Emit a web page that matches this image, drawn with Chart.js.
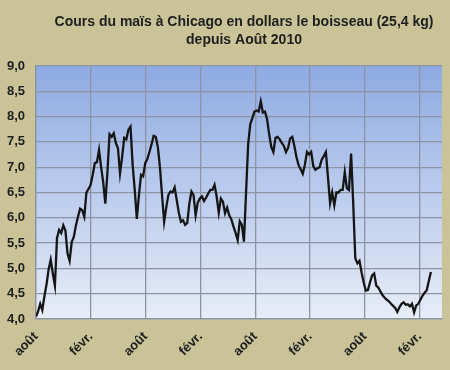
<!DOCTYPE html>
<html>
<head>
<meta charset="utf-8">
<script src="https://cdn.jsdelivr.net/npm/chart.js@4/dist/chart.umd.min.js"></script>
<style>
  html, body { margin: 0; padding: 0; background: #c9c397; }
  #wrap { width: 450px; height: 370px; }
</style>
</head>
<body>
<div id="wrap"><canvas id="c" width="450" height="370"></canvas></div>
<script>
// Title lines
const titleLines = ['Cours du maïs à Chicago en dollars le boisseau (25,4 kg)', 'depuis Août 2010'];
// Weekly closing price of corn (USD per bushel), starting first week of August 2010
const weeklyPrices = [
  4.05, 4.15, 4.30, 4.18, 4.45, 4.68, 4.98, 5.17, 4.90, 4.66,
  5.60, 5.76, 5.70, 5.85, 5.75, 5.30, 5.15, 5.52, 5.62, 5.85,
  6.02, 6.18, 6.15, 6.02, 6.50, 6.57, 6.65, 6.85, 7.08, 7.10,
  7.34, 7.00, 6.70, 6.28, 6.90, 7.65, 7.60, 7.67, 7.48, 7.38,
  6.88, 7.20, 7.58, 7.55, 7.74, 7.80, 7.05, 6.55, 5.98, 6.45,
  6.85, 6.82, 7.08, 7.16, 7.30, 7.45, 7.62, 7.60, 7.40, 7.00,
  6.45, 5.92, 6.20, 6.45, 6.52, 6.50, 6.60, 6.35, 6.10, 5.92,
  5.95, 5.86, 5.90, 6.28, 6.52, 6.45, 6.05, 6.30, 6.38, 6.42,
  6.33, 6.40, 6.48, 6.55, 6.55, 6.65, 6.42, 6.10, 6.38, 6.32,
  6.09, 6.20, 6.05, 5.97, 5.83, 5.70, 5.56, 5.93, 5.86, 5.53,
  6.50, 7.45, 7.85, 7.97, 8.10, 8.12, 8.10, 8.30, 8.08, 8.10,
  7.95, 7.65, 7.40, 7.30, 7.58, 7.60, 7.55, 7.48, 7.42, 7.30,
  7.38, 7.57, 7.60, 7.42, 7.20, 7.04, 6.96, 6.87, 7.05, 7.30,
  7.25, 7.30, 7.02, 6.95, 6.98, 7.00, 7.15, 7.22, 7.30, 6.80,
  6.29, 6.50, 6.25, 6.50, 6.50, 6.55, 6.55, 6.90, 6.58, 6.55,
  7.27, 6.30, 5.20, 5.10, 5.15, 4.92, 4.72, 4.56, 4.57, 4.72,
  4.86, 4.90, 4.66, 4.62, 4.54, 4.47, 4.42, 4.38, 4.35, 4.30,
  4.26, 4.22, 4.14, 4.23, 4.30, 4.33, 4.28, 4.29, 4.25, 4.30,
  4.13, 4.27, 4.30, 4.38, 4.46, 4.52, 4.57, 4.75, 4.93
];
// Tick labels alternate every six months, starting August 2010
const monthTickLabels = ['août', 'févr.'];
const daysPerMonth = 30.4375;

const points = weeklyPrices.map((v, i) => ({ x: i * 7 / daysPerMonth, y: v }));

const bgPlugin = {
  id: 'bg',
  beforeDraw(chart) {
    const { ctx, chartArea: a } = chart;
    ctx.save();
    ctx.fillStyle = '#c9c397';
    ctx.fillRect(0, 0, chart.width, chart.height);
    const g = ctx.createLinearGradient(0, a.top, 0, a.bottom);
    g.addColorStop(0, '#8eaae2');
    g.addColorStop(1, '#e8edf7');
    ctx.fillStyle = g;
    ctx.fillRect(a.left, a.top, a.right - a.left, a.bottom - a.top);
    ctx.restore();
  },
  afterDraw(chart) {
    const { ctx } = chart;
    ctx.save();
    ctx.fillStyle = '#1e1e1e';
    ctx.font = 'bold 14px "Liberation Sans", Arial, sans-serif';
    ctx.textAlign = 'center';
    ctx.textBaseline = 'middle';
    ctx.fillText(titleLines[0], 244, 22);
    ctx.fillText(titleLines[1], 244, 40);
    ctx.restore();
  }
};

new Chart(document.getElementById('c'), {
  type: 'line',
  data: {
    datasets: [{
      data: points,
      borderColor: '#151515',
      borderWidth: 2.3,
      pointRadius: 0,
      tension: 0,
      fill: false
    }]
  },
  options: {
    responsive: false,
    animation: false,
    layout: { padding: { top: 66, right: 8, left: 0, bottom: 0 } },
    plugins: { legend: { display: false }, tooltip: { enabled: false }, title: { display: false } },
    scales: {
      x: {
        type: 'linear',
        min: 0,
        max: 44.45,
        afterFit(scale) { scale.height = 51; },
        afterBuildTicks(scale) { scale.ticks = scale.ticks.filter(t => Math.abs(t.value % 6) < 1e-6); },
        grid: { color: '#8c94a3', lineWidth: 1.3, drawTicks: false },
        border: { display: true, color: '#8c94a3', width: 1.3 },
        ticks: {
          stepSize: 6,
          autoSkip: false,
          maxRotation: 45,
          minRotation: 45,
          padding: 10,
          color: '#1e1e1e',
          font: { family: '"Liberation Sans", Arial, sans-serif', size: 13, weight: 'bold' },
          callback: (v) => monthTickLabels[Math.round(v / 6) % 2]
        }
      },
      y: {
        min: 4,
        max: 9,
        afterFit(scale) { scale.width = 36; },
        grid: { color: '#8c94a3', lineWidth: 1.3, drawTicks: false },
        border: { display: true, color: '#8c94a3', width: 1.3 },
        ticks: {
          stepSize: 0.5,
          padding: 11,
          color: '#1e1e1e',
          font: { family: '"Liberation Sans", Arial, sans-serif', size: 13, weight: 'bold' },
          callback: (v) => v.toFixed(1).replace('.', ',')
        }
      }
    }
  },
  plugins: [bgPlugin]
});
</script>
</body>
</html>
